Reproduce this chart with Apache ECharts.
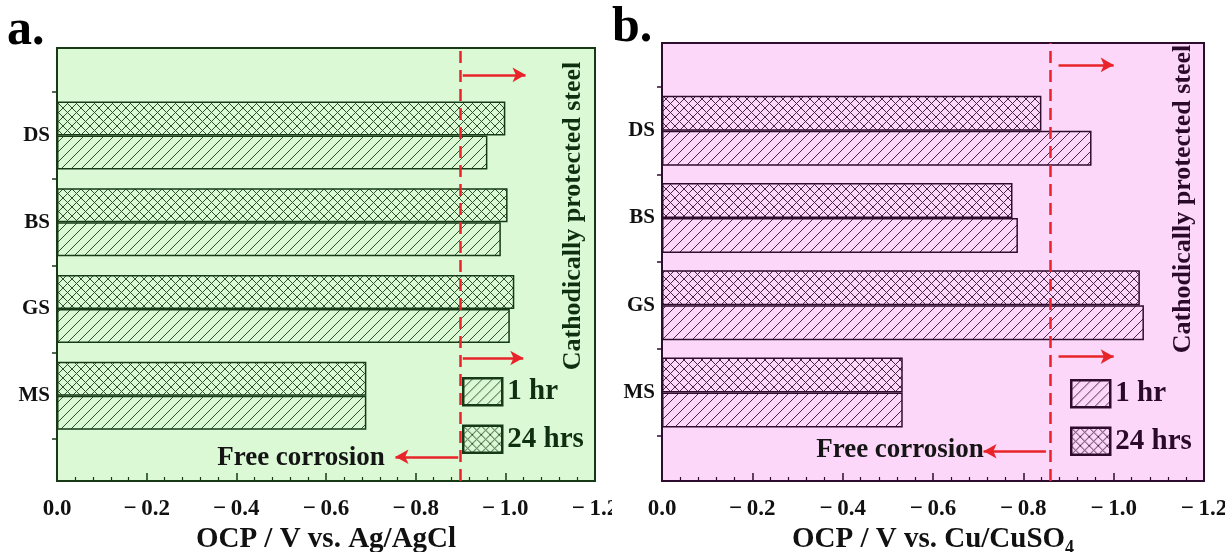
<!DOCTYPE html>
<html>
<head>
<meta charset="utf-8">
<script src="https://cdn.jsdelivr.net/npm/echarts@6/dist/echarts.min.js"></script>
<style>
html,body{margin:0;padding:0;background:#fff;}
#wrap{position:relative;width:1225px;height:552px;}
#ca{position:absolute;left:0;top:0;width:612px;height:552px;}
#cb{position:absolute;left:612px;top:0;width:613px;height:552px;}
</style>
</head>
<body>
<div id="wrap"><div id="ca"></div><div id="cb"></div></div>
<script>
// ---------- data ----------
const categories = ['MS', 'GS', 'BS', 'DS'];
const seriesNames = ['1 hr', '24 hrs'];
// panel a (vs. Ag/AgCl)
const a_1hr   = [-0.69, -1.01, -0.99, -0.96];
const a_24hrs = [-0.69, -1.02, -1.005, -1.00];
const a_limit = -0.90;
// panel b (vs. Cu/CuSO4)
const b_1hr   = [-0.533, -1.067, -0.788, -0.951];
const b_24hrs = [-0.533, -1.058, -0.776, -0.84];
const b_limit = -0.86;
// x axis ticks
const xMin = -1.2, xMax = 0, xInterval = 0.2;

const FONT = 'Liberation Serif';
const RED = '#e8242a';

function makePattern(kind, bg, ink, size, lw) {
  const c = document.createElement('canvas');
  c.width = size; c.height = size;
  const g = c.getContext('2d');
  g.fillStyle = bg; g.fillRect(0, 0, size, size);
  g.strokeStyle = ink; g.lineWidth = lw;
  g.beginPath();
  g.moveTo(0, size); g.lineTo(size, 0);
  g.moveTo(-size / 2, size / 2); g.lineTo(size / 2, -size / 2);
  g.moveTo(size / 2, size * 1.5); g.lineTo(size * 1.5, size / 2);
  if (kind === 'cross') {
    g.moveTo(0, 0); g.lineTo(size, size);
    g.moveTo(-size / 2, size / 2); g.lineTo(size / 2, size * 1.5);
    g.moveTo(size / 2, -size / 2); g.lineTo(size * 1.5, size / 2);
  }
  g.stroke();
  return c;
}

function build(p) {
  const diag = makePattern('diag', p.bg, p.hatch, 10, 1);
  const cross = makePattern('cross', p.bg, p.hatch, 9, 1);
  const fmt = v => '{t|' + (Math.abs(v) < 1e-9 ? '0.0' : '\u2212\u2009' + Math.abs(v).toFixed(1)) + '}';
  const arrowLine = (x0, x1, y) => [{coord: [x0, y]}, {coord: [x1, y]}];
  return {
    animation: false,
    textStyle: {fontFamily: FONT},
    grid: [
      {left: p.left, right: p.right, top: p.top, bottom: p.bottom, show: true,
       outerBoundsMode: 'none', containLabel: false,
       backgroundColor: p.bg, borderColor: p.ink, borderWidth: 2},
      {left: p.left, right: p.right, top: p.innerTop, bottom: p.innerBottom,
       outerBoundsMode: 'none', containLabel: false}
    ],
    xAxis: [
      {gridIndex: 0, type: 'value', min: xMin, max: xMax, interval: xInterval, inverse: true,
       axisLine: {show: true, lineStyle: {color: p.ink, width: 2}},
       axisTick: {show: true, inside: true, length: 8, lineStyle: {color: p.ink, width: 1.5}},
       minorTick: {show: true, splitNumber: 5, length: 4, lineStyle: {color: p.ink, width: 1.2}},
       splitLine: {show: false},
       axisLabel: {formatter: fmt, margin: 16, fontSize: 23,
         rich: {t: {fontFamily: FONT, fontWeight: 'bold', fontSize: 23, lineHeight: 24, color: '#111'}}},
       name: p.xName, nameLocation: 'middle', nameGap: 39,
       nameTextStyle: {fontFamily: FONT, fontWeight: 'bold', fontSize: 29, color: '#111',
         rich: {sub: {fontFamily: FONT, fontWeight: 'bold', fontSize: 18, color: '#111', verticalAlign: 'bottom', padding: [16, 0, 0, 0]}}}
      },
      {gridIndex: 1, type: 'value', min: xMin, max: xMax, inverse: true, show: false}
    ],
    yAxis: [
      {gridIndex: 0, type: 'value', min: 0, max: 5, show: false},
      {gridIndex: 1, type: 'category', data: categories,
       axisLine: {show: true, lineStyle: {color: p.ink, width: 2}},
       axisTick: {show: true, length: 5, lineStyle: {color: p.ink, width: 1.5}},
       axisLabel: {fontFamily: FONT, fontWeight: 'bold', fontSize: 21, color: '#111', margin: 7}}
    ],
    legend: {
      data: seriesNames, orient: 'vertical', left: p.legLeft, top: p.legTop,
      itemWidth: 39, itemHeight: 27, itemGap: 18, icon: 'rect', selectedMode: false,
      textStyle: {fontFamily: FONT, fontWeight: 'bold', fontSize: 29, color: p.legInk},
      itemStyle: {borderColor: p.ink, borderWidth: 2.5}
    },
    series: [
      {type: 'line', xAxisIndex: 0, yAxisIndex: 0, data: [], z: 10, silent: true,
       markLine: {
         silent: true, symbol: ['none', 'none'], label: {show: false},
         lineStyle: {color: RED, width: 2.5, type: [12, 7]},
         data: [{xAxis: p.limit}]
       }},
      {type: 'line', xAxisIndex: 0, yAxisIndex: 0, data: [], z: 10, silent: true,
       markLine: {
         silent: true, symbol: ['none', 'arrow'], symbolSize: [11, 13], label: {show: false},
         lineStyle: {color: RED, width: 2.5, type: 'solid'},
         data: p.arrows.map(a => arrowLine(a[0], a[1], a[2]))
       }},
      {type: 'bar', name: seriesNames[1], xAxisIndex: 1, yAxisIndex: 1, data: p.d24,
       barWidth: p.barW, barGap: '0%',
       itemStyle: {color: {image: cross, repeat: 'repeat'}, borderColor: p.ink, borderWidth: 1.5}},
      {type: 'bar', name: seriesNames[0], xAxisIndex: 1, yAxisIndex: 1, data: p.d1,
       barWidth: p.barW, barGap: '0%',
       itemStyle: {color: {image: diag, repeat: 'repeat'}, borderColor: p.ink, borderWidth: 1.5}}
    ],
    graphic: [
      {type: 'text', x: p.titleX, y: p.titleY,
       style: {text: p.title, font: 'bold 50px "Liberation Serif"', fill: '#000', align: 'left', verticalAlign: 'middle'}},
      {type: 'text', x: p.cathX, y: p.cathY, rotation: Math.PI / 2,
       style: {text: 'Cathodically protected steel', font: 'bold 26px "Liberation Serif"', fill: p.legInk, align: 'center', verticalAlign: 'middle'}},
      {type: 'text', x: p.freeX, y: p.freeY,
       style: {text: 'Free corrosion', font: 'bold 27px "Liberation Serif"', fill: '#151515', align: 'center', verticalAlign: 'middle'}}
    ]
  };
}

const panelA = {
  bg: '#dbf9d5', ink: '#163a16', hatch: '#2c522c', legInk: '#0f3010',
  left: 57, right: 17, top: 48, bottom: 71, innerTop: 92, innerBottom: 113, barW: 34,
  xName: 'OCP / V vs. Ag/AgCl', limit: a_limit,
  arrows: [[-0.905, -1.045, 4.69], [-0.905, -1.04, 1.42], [-0.895, -0.755, 0.28]],
  d1: a_1hr, d24: a_24hrs, legLeft: 457, legTop: 372,
  title: 'a.', titleX: 7, titleY: 31, cathX: 573, cathY: 216, freeX: 301, freeY: 458
};
const panelB = {
  bg: '#fcd7f9', ink: '#2e0c2e', hatch: '#4a2448', legInk: '#2a0a2a',
  left: 50, right: 21, top: 43, bottom: 71, innerTop: 87, innerBottom: 116, barW: 35,
  xName: 'OCP / V vs. Cu/CuSO{sub|4}', limit: b_limit,
  arrows: [[-0.878, -1.0, 4.75], [-0.878, -1.0, 1.42], [-0.85, -0.712, 0.34]],
  d1: b_1hr, d24: b_24hrs, legLeft: 453, legTop: 374,
  title: 'b.', titleX: 0, titleY: 28, cathX: 571, cathY: 199, freeX: 288, freeY: 450
};

echarts.init(document.getElementById('ca')).setOption(build(panelA));
echarts.init(document.getElementById('cb')).setOption(build(panelB));
</script>
</body>
</html>
